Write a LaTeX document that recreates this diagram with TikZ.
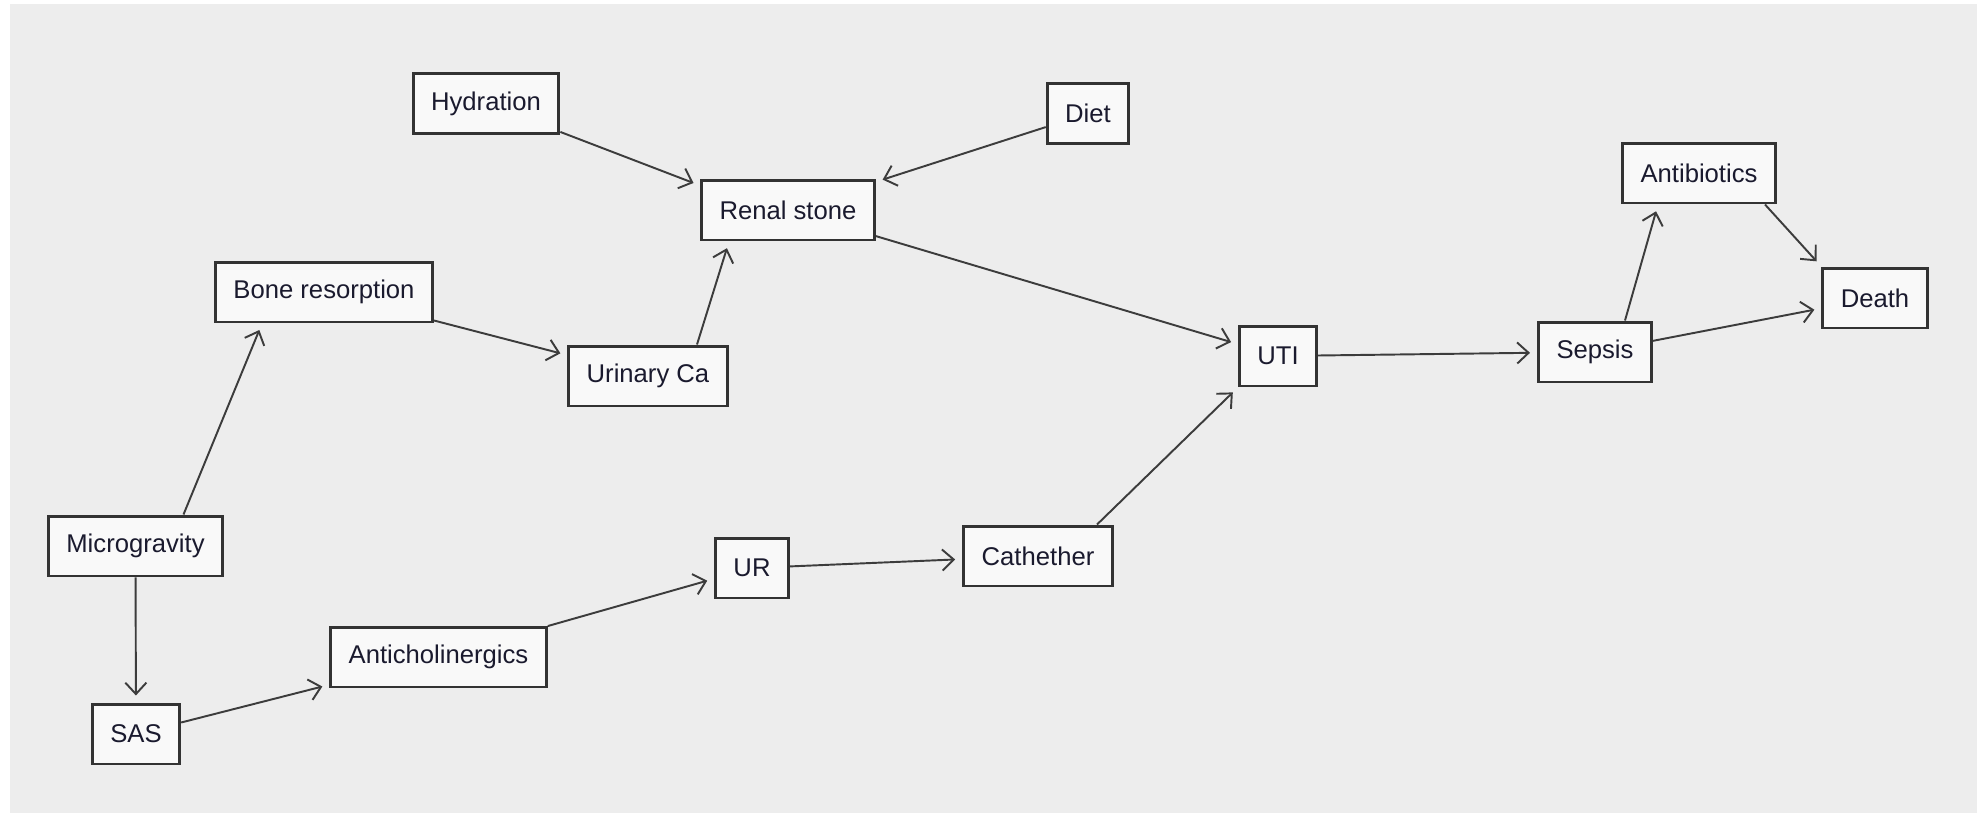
\documentclass[tikz,border=0pt]{standalone}
\usepackage{fontspec}
\setmainfont{Liberation Sans}
\usetikzlibrary{arrows.meta,calc}
\definecolor{bg}{HTML}{EDEDED}
\definecolor{boxfill}{HTML}{F9F9F9}
\definecolor{boxline}{HTML}{333333}
\definecolor{arrowline}{HTML}{3C3C3C}
\definecolor{txt}{HTML}{1A1A2E}

\begin{document}
\begin{tikzpicture}[x=0.02cm,y=-0.02cm,
  var/.style={draw=boxline,fill=boxfill,line width=1.7pt,minimum height=1.2cm,
    inner xsep=0.36cm,text=txt,font=\fontsize{14.6}{17}\selectfont},
  edge/.style={draw=arrowline,line width=1.1pt,
    -{Straight Barb[length=6.5pt,width=12pt]},shorten >=4pt}]
\useasboundingbox (0,0) rectangle (1977,815);
\fill[bg] (10,4) rectangle (1977,813);

\node[var] (hyd) at (486,103.5) {Hydration};
\node[var] (diet) at (1088,113.5) {Diet};
\node[var] (ren) at (788,210) {Renal stone};
\node[var] (bone) at (324,292) {Bone resorption};
\node[var] (uca) at (648,376) {Urinary Ca};
\node[var] (uti) at (1278,356) {UTI};
\node[var] (sep) at (1595,352) {Sepsis};
\node[var] (abx) at (1699,173) {Antibiotics};
\node[var] (death) at (1875,298) {Death};
\node[var] (mg) at (135.5,546) {Microgravity};
\node[var] (sas) at (136,734) {SAS};
\node[var] (ach) at (438.5,657) {Anticholinergics};
\node[var] (ur) at (752,568) {UR};
\node[var] (cath) at (1038,556) {Cathether};

\draw[edge] (hyd) -- ($(ren.north west)+(0,7)$);
\draw[edge] (diet) -- (ren);
\draw[edge] ($(uca.north)+(49,0)$) -- ($(ren.south)+(-59,0)$);
\draw[edge] (bone) -- (uca);
\draw[edge] ($(mg.north)+(48,0)$) -- ($(bone.south)+(-62,0)$);
\draw[edge] (mg) -- (sas);
\draw[edge] (sas) -- (ach);
\draw[edge] (ach) -- (ur);
\draw[edge] (ur) -- (cath);
\draw[edge] ($(cath.north)+(59,0)$) -- (uti.south west);
\draw[edge] (ren) -- (uti);
\draw[edge] (uti) -- (sep);
\draw[edge] ($(sep.north)+(30,0)$) -- ($(abx.south)+(-41,0)$);
\draw[edge] (sep) -- (death);
\draw[edge] ($(abx.south)+(66,0)$) -- (death.north west);
\end{tikzpicture}
\end{document}
